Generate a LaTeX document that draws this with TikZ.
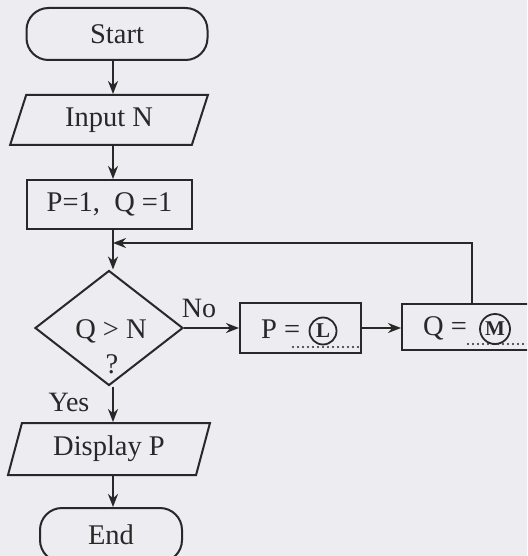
\documentclass[tikz,border=0pt]{standalone}
\usepackage{fontspec}
\setmainfont{Liberation Serif}
\usetikzlibrary{shapes.geometric,arrows.meta}
\definecolor{paper}{RGB}{236,236,241}
\definecolor{ink}{RGB}{40,40,40}
\tikzset{
  x=1pt,y=-1pt,
  every node/.style={font=\fontsize{28.5}{32}\selectfont,text=ink,inner sep=0pt},
  ln/.style={draw=ink,line width=2pt},
  term/.style={ln,rectangle,rounded corners=22pt},
  iobox/.style={ln,trapezium,trapezium left angle=71,trapezium right angle=109,trapezium stretches=true},
  procbox/.style={ln,rectangle},
  decbox/.style={ln,diamond},
  arr/.style={draw=ink,line width=2pt,-{Stealth[length=13pt,width=10pt]}},
  circ/.style={draw=ink,line width=1.8pt,circle,font=\fontsize{21}{22}\selectfont\bfseries},
  dotline/.style={draw=ink,line width=2.2pt,line cap=round,dash pattern=on 0pt off 5pt},
  lbl/.style={font=\fontsize{28}{30}\selectfont}
}
\begin{document}
\begin{tikzpicture}
\fill[paper] (0,0) rectangle (527,556);
\useasboundingbox (0,0) rectangle (527,556);
\begin{scope}
\clip (0,0) rectangle (527,556);
\coordinate (ax) at (113,0);
\coordinate (qx) at (472,0);
\node[term,minimum width=181pt,minimum height=52pt] (start) at (117,34) {Start};
\node[iobox,minimum width=198pt,minimum height=50pt] (input) at (109,120) {Input N};
\node[procbox,minimum width=165pt,minimum height=49pt] (init) at (109.5,204.5) {P=1,\ \ Q =1};
\node[decbox,minimum width=148pt,minimum height=115pt] (dec) at (109,328) {};
\node (qn) at (111,331) {Q > N};
\node (qm) at (112,364) {?};
\node[procbox,minimum width=121pt,minimum height=50pt] (pbox) at (300.5,328) {};
\node[anchor=west] (ptxt) at (261,329) {P =};
\node[circ,minimum size=27pt] (lc) at (323,331) {L};
\node[procbox,minimum width=140pt,minimum height=46pt] (qbox) at (472,327) {};
\node[anchor=west] (qtxt) at (423,328) {Q =};
\node[circ,minimum size=30pt] (mc) at (495,329) {M};
\node[iobox,minimum width=202pt,minimum height=52pt] (disp) at (109,449) {Display P};
\node[term,minimum width=142pt,minimum height=54pt] (stop) at (111,535) {End};
\node[lbl] (no) at (199,308) {No};
\node[lbl] (yes) at (69,402) {Yes};
\coordinate (join) at (113,243);
\draw[arr] (start.south -| ax) -- (input.north -| ax);
\draw[arr] (input.south -| ax) -- (init.north -| ax);
\draw[arr] (init.south -| ax) -- (dec.north -| ax);
\draw[arr] (dec.east) -- (pbox.west |- dec.east);
\draw[arr] (pbox.east) -- (qbox.west |- pbox.east);
\draw[arr] (qbox.north -| qx) |- (join);
\draw[arr] (dec.south -| ax) -- (disp.north -| ax);
\draw[arr] (disp.south -| ax) -- (stop.north -| ax);
\draw[dotline] (293,347) -- (358,347);
\draw[dotline] (468,344) -- (530,344);
\end{scope}
\end{tikzpicture}
\end{document}
